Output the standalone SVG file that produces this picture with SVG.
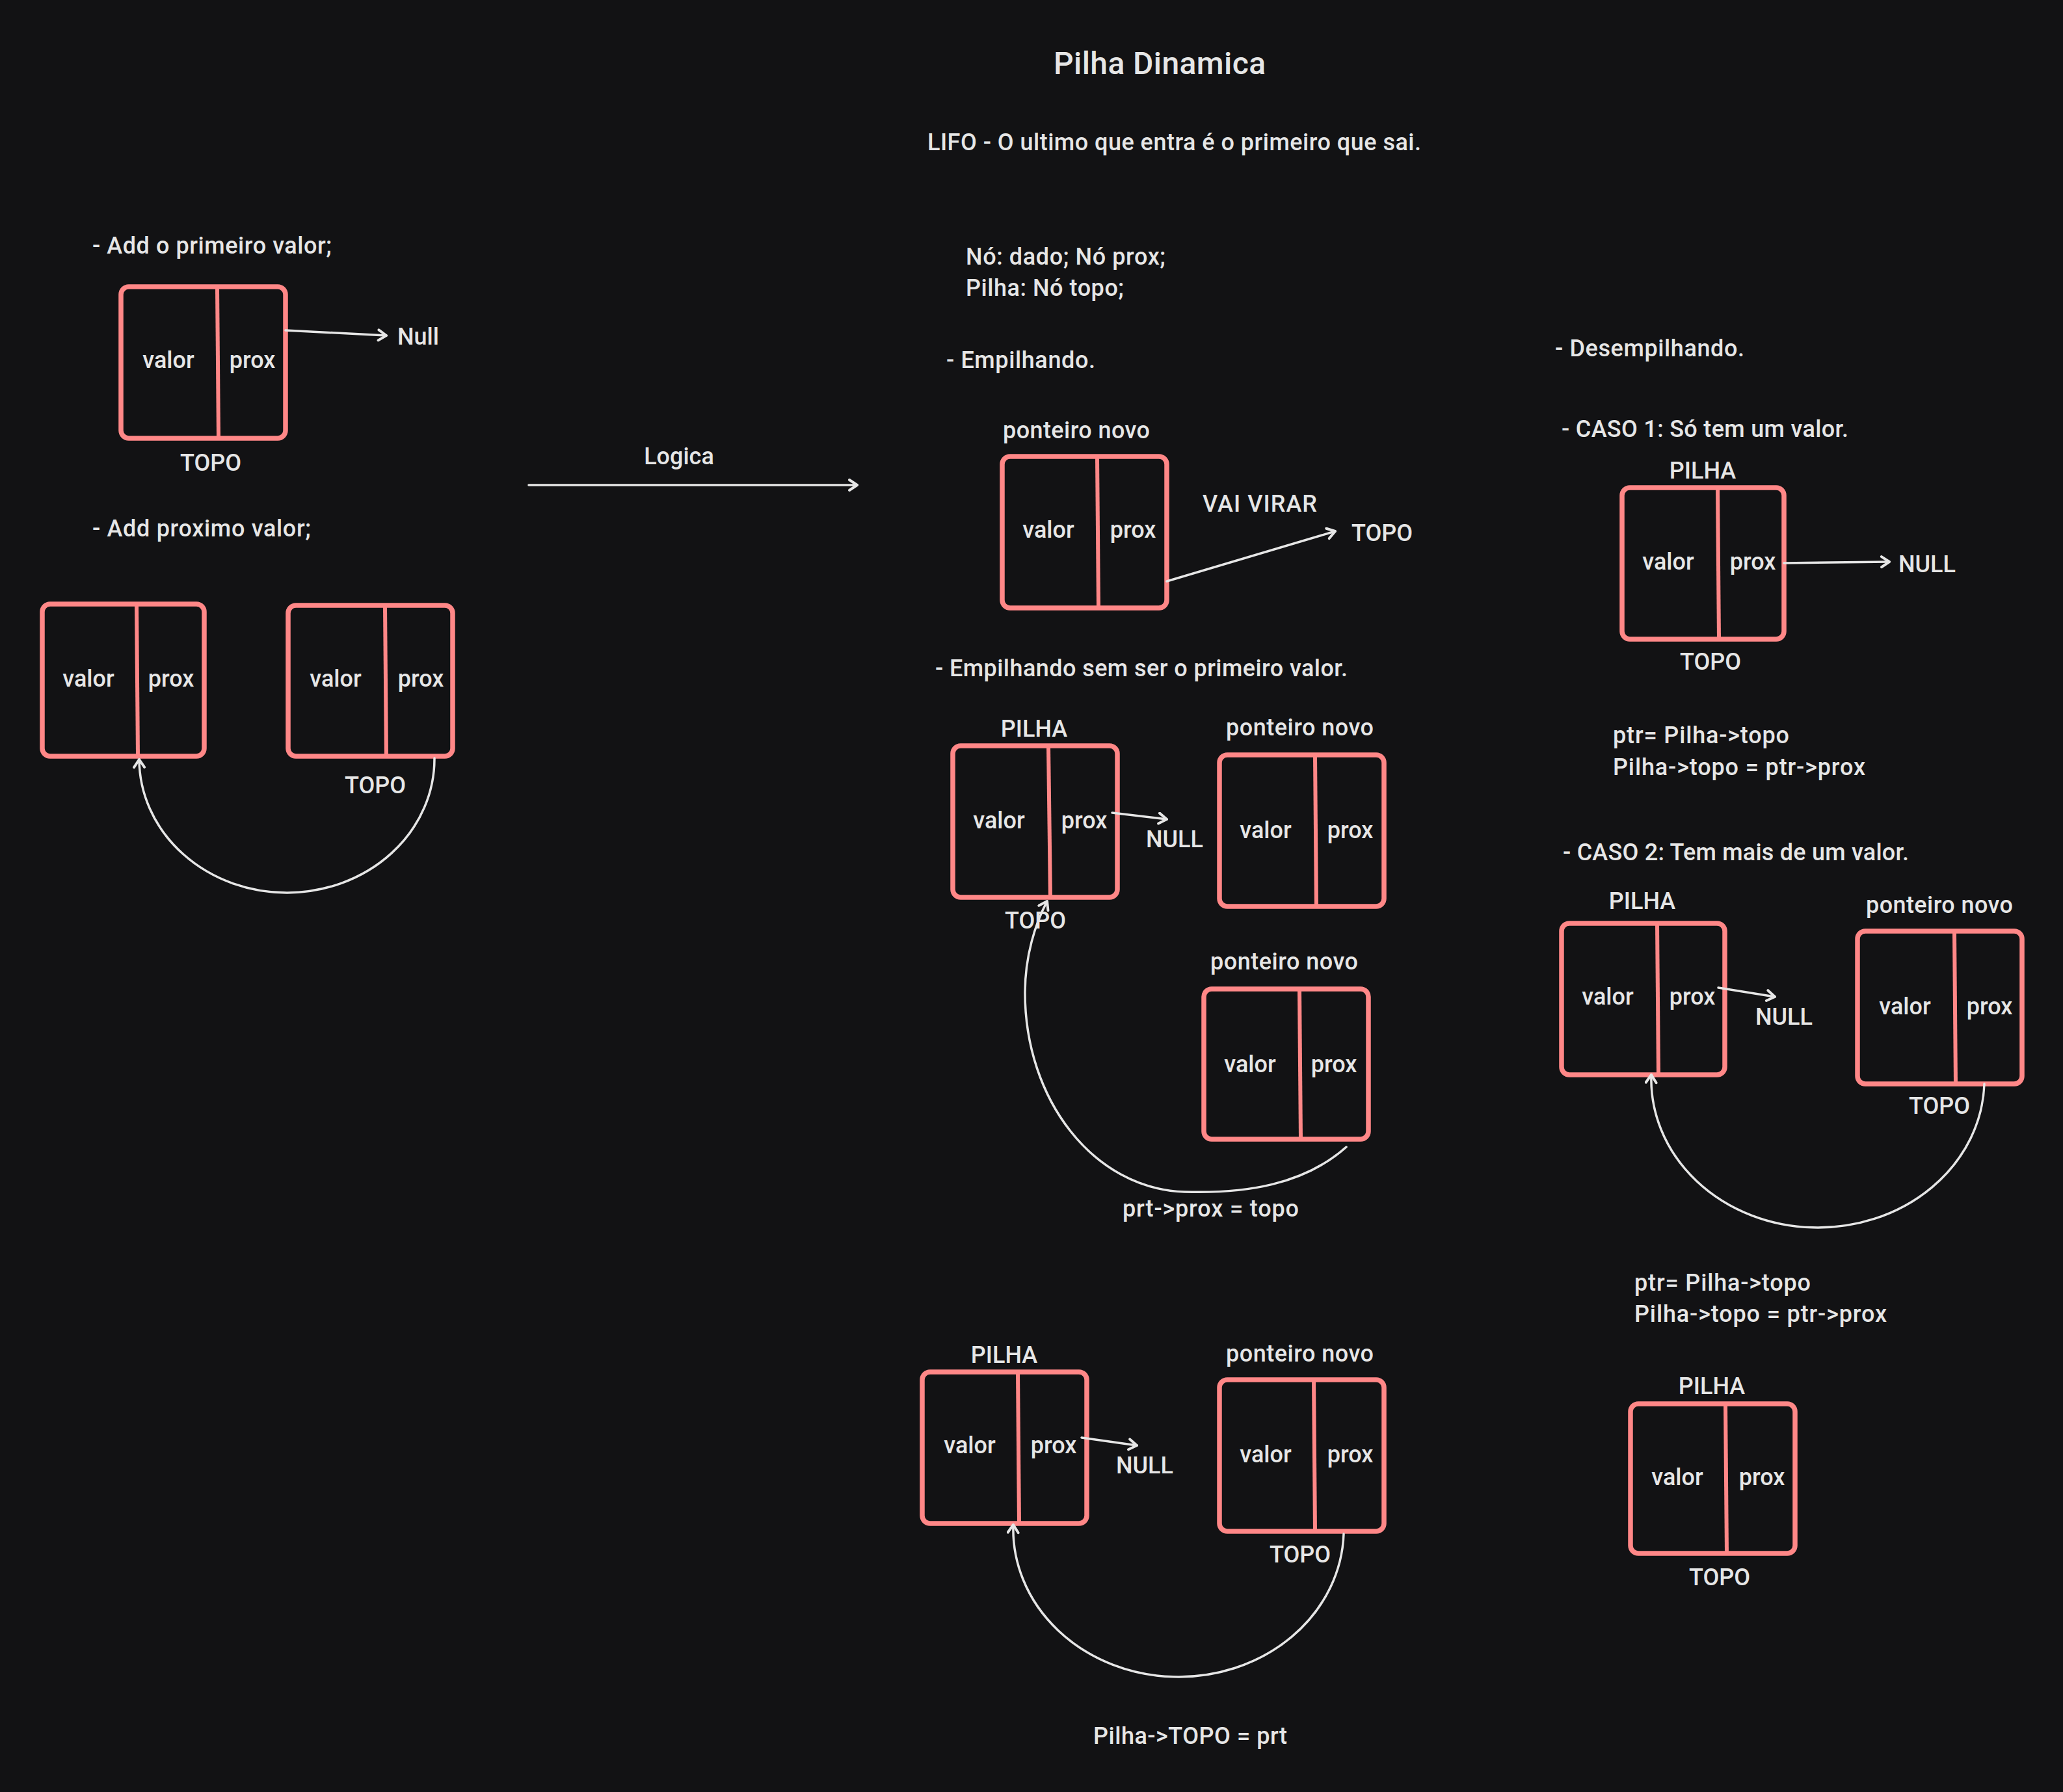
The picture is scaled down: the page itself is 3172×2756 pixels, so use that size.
<svg xmlns="http://www.w3.org/2000/svg" width="3172" height="2756" viewBox="0 0 3172 2756">
<defs>
<marker id="arr" markerUnits="userSpaceOnUse" markerWidth="30" markerHeight="30" refX="16" refY="10" orient="auto">
<path d="M4,2 L16,10 L4,18" fill="none" stroke="#e6e6e6" stroke-width="4" stroke-linecap="round" stroke-linejoin="round"/>
</marker>
</defs>
<style>
text{font-family:Roboto,"Liberation Sans",sans-serif;font-size:36px;font-weight:500;fill:#e6e6e6}
.m{text-anchor:middle}
.title{font-size:48px}
.box{fill:none;stroke:#ff8787;stroke-width:7.5;rx:12px}
.div{stroke:#ff8787;stroke-width:6}
.con{fill:none;stroke:#e6e6e6;stroke-width:3.5;stroke-linecap:round}
</style>
<rect x="0" y="0" width="3172" height="2756" fill="#121214"/>

<g id="texts">
<text class="title m" x="1783" y="114" textLength="326">Pilha Dinamica</text>
<text x="1426" y="231" textLength="759">LIFO - O ultimo que entra é o primeiro que sai.</text>
<text x="1485" y="407" textLength="307">Nó: dado; Nó prox;</text>
<text x="1485" y="455" textLength="243">Pilha: Nó topo;</text>
<text x="1455" y="566" textLength="229">- Empilhando.</text>
<text x="142" y="390" textLength="368">- Add o primeiro valor;</text>
<text x="142" y="825" textLength="336">- Add proximo valor;</text>
<text class="m" x="1044" y="714">Logica</text>
<text x="611" y="530">Null</text>
<text class="m" x="324" y="724">TOPO</text>
<text class="m" x="577" y="1220">TOPO</text>
<text x="1542" y="674" textLength="226">ponteiro novo</text>
<text x="1849" y="787" textLength="176">VAI VIRAR</text>
<text x="2078" y="832">TOPO</text>
<text x="1438" y="1040" textLength="634">- Empilhando sem ser o primeiro valor.</text>
<text class="m" x="1590" y="1133">PILHA</text>
<text x="1762" y="1303">NULL</text>
<text class="m" x="1592" y="1428">TOPO</text>
<text x="1885" y="1131" textLength="227">ponteiro novo</text>
<text x="1861" y="1491" textLength="227">ponteiro novo</text>
<text x="1726" y="1871" textLength="271">prt-&gt;prox = topo</text>
<text class="m" x="1544" y="2096">PILHA</text>
<text x="1716" y="2266">NULL</text>
<text x="1885" y="2094" textLength="227">ponteiro novo</text>
<text class="m" x="1999" y="2403">TOPO</text>
<text x="1681" y="2682" textLength="298">Pilha-&gt;TOPO = prt</text>
<text x="2391" y="548" textLength="291">- Desempilhando.</text>
<text x="2401" y="672" textLength="441">- CASO 1: Só tem um valor.</text>
<text class="m" x="2618" y="736">PILHA</text>
<text x="2919" y="880">NULL</text>
<text class="m" x="2630" y="1030">TOPO</text>
<text x="2480" y="1143" textLength="271">ptr= Pilha-&gt;topo</text>
<text x="2480" y="1192" textLength="388">Pilha-&gt;topo = ptr-&gt;prox</text>
<text x="2403" y="1323" textLength="532">- CASO 2: Tem mais de um valor.</text>
<text class="m" x="2525" y="1398">PILHA</text>
<text x="2699" y="1576">NULL</text>
<text x="2869" y="1404" textLength="226">ponteiro novo</text>
<text class="m" x="2982" y="1713">TOPO</text>
<text x="2513" y="1985" textLength="271">ptr= Pilha-&gt;topo</text>
<text x="2513" y="2033" textLength="388">Pilha-&gt;topo = ptr-&gt;prox</text>
<text class="m" x="2632" y="2144">PILHA</text>
<text class="m" x="2644" y="2438">TOPO</text>
</g>

<g id="nodeA"><rect class="box" x="186" y="441" width="253" height="233"/><line class="div" x1="334" y1="441" x2="336" y2="674"/><text class="m" x="259" y="566">valor</text><text class="m" x="388" y="566">prox</text></g>
<g id="nodeB"><rect class="box" x="65" y="929" width="249" height="234"/><line class="div" x1="210" y1="929" x2="212" y2="1163"/><text class="m" x="136" y="1056">valor</text><text class="m" x="263" y="1056">prox</text></g>
<g id="nodeC"><rect class="box" x="443" y="931" width="253" height="232"/><line class="div" x1="592" y1="931" x2="594" y2="1163"/><text class="m" x="516" y="1056">valor</text><text class="m" x="647" y="1056">prox</text></g>
<g id="nodeD"><rect class="box" x="1541" y="702" width="253" height="233"/><line class="div" x1="1687" y1="702" x2="1689" y2="935"/><text class="m" x="1612" y="827">valor</text><text class="m" x="1742" y="827">prox</text></g>
<g id="nodeE"><rect class="box" x="1465" y="1147" width="253" height="233"/><line class="div" x1="1612" y1="1147" x2="1615" y2="1380"/><text class="m" x="1536" y="1274">valor</text><text class="m" x="1667" y="1274">prox</text></g>
<g id="nodeF"><rect class="box" x="1875" y="1161" width="253" height="233"/><line class="div" x1="2022" y1="1161" x2="2024" y2="1394"/><text class="m" x="1946" y="1289">valor</text><text class="m" x="2076" y="1289">prox</text></g>
<g id="nodeG"><rect class="box" x="1851" y="1521" width="253" height="231"/><line class="div" x1="1998" y1="1521" x2="2000" y2="1752"/><text class="m" x="1922" y="1649">valor</text><text class="m" x="2051" y="1649">prox</text></g>
<g id="nodeH"><rect class="box" x="1418" y="2110" width="253" height="233"/><line class="div" x1="1565" y1="2110" x2="1567" y2="2343"/><text class="m" x="1491" y="2235">valor</text><text class="m" x="1620" y="2235">prox</text></g>
<g id="nodeI"><rect class="box" x="1875" y="2122" width="253" height="233"/><line class="div" x1="2020" y1="2122" x2="2022" y2="2355"/><text class="m" x="1946" y="2249">valor</text><text class="m" x="2076" y="2249">prox</text></g>
<g id="nodeJ"><rect class="box" x="2494" y="750" width="249" height="233"/><line class="div" x1="2641" y1="750" x2="2643" y2="983"/><text class="m" x="2565" y="876">valor</text><text class="m" x="2695" y="876">prox</text></g>
<g id="nodeK"><rect class="box" x="2401" y="1420" width="251" height="233"/><line class="div" x1="2548" y1="1420" x2="2550" y2="1653"/><text class="m" x="2472" y="1545">valor</text><text class="m" x="2602" y="1545">prox</text></g>
<g id="nodeL"><rect class="box" x="2856" y="1432" width="253" height="235"/><line class="div" x1="3005" y1="1432" x2="3007" y2="1667"/><text class="m" x="2929" y="1560">valor</text><text class="m" x="3059" y="1560">prox</text></g>
<g id="nodeM"><rect class="box" x="2507" y="2159" width="253" height="230"/><line class="div" x1="2653" y1="2159" x2="2655" y2="2389"/><text class="m" x="2579" y="2284">valor</text><text class="m" x="2709" y="2284">prox</text></g>

<g id="connectors">
<path class="con" d="M439,508 L594,516" marker-end="url(#arr)"/>
<path class="con" d="M668,1166 A227,206 0 0 1 214,1168" marker-end="url(#arr)"/>
<path class="con" d="M813,746 L1318,746" marker-end="url(#arr)"/>
<path class="con" d="M1794,894 L2053,817" marker-end="url(#arr)"/>
<path class="con" d="M1710,1250 L1794,1260" marker-end="url(#arr)"/>
<path class="con" d="M2070,1764 C2005,1822 1915,1836 1821,1833 C1680,1828 1576,1690 1576,1527 C1576,1470 1592,1420 1610,1386" marker-end="url(#arr)"/>
<path class="con" d="M1663,2211 L1748,2223" marker-end="url(#arr)"/>
<path class="con" d="M2066,2359 A254,227 0 0 1 1558,2345" marker-end="url(#arr)"/>
<path class="con" d="M2743,866 L2905,864" marker-end="url(#arr)"/>
<path class="con" d="M2642,1519 L2729,1533" marker-end="url(#arr)"/>
<path class="con" d="M3051,1667 A256,228 0 0 1 2539,1653" marker-end="url(#arr)"/>
</g>
</svg>
